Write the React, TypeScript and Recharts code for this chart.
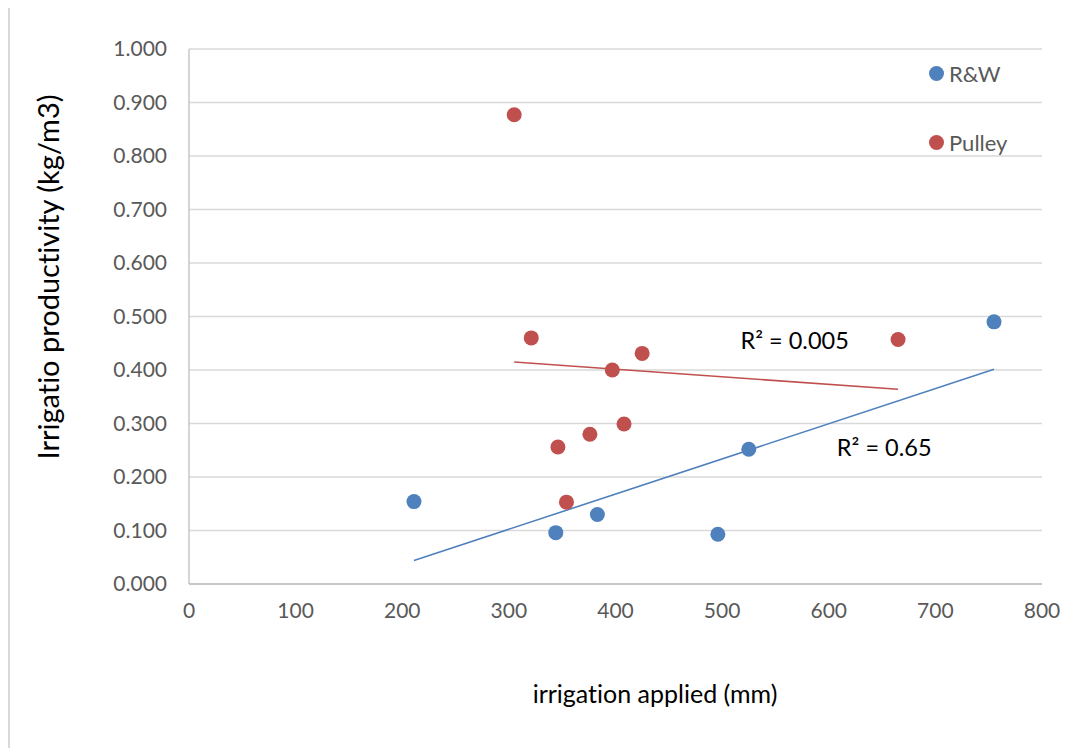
import React from "react";
import {
  ScatterChart,
  Scatter,
  XAxis,
  YAxis,
  CartesianGrid,
  ReferenceLine,
  ReferenceDot,
  Legend,
  Label,
} from "recharts";

// Irrigation applied (mm) and irrigation productivity (kg/m3) per site
const rwIrrigation = [211, 344, 383, 496, 525, 755];
const rwProductivity = [0.154, 0.096, 0.13, 0.093, 0.252, 0.49];

const pulleyIrrigation = [305, 321, 346, 354, 376, 397, 408, 425, 665];
const pulleyProductivity = [0.877, 0.46, 0.256, 0.153, 0.28, 0.4, 0.299, 0.431, 0.457];

const seriesNames = ["R&W", "Pulley"];

const xTicks = [0, 100, 200, 300, 400, 500, 600, 700, 800];
const yTicks = [0, 0.1, 0.2, 0.3, 0.4, 0.5, 0.6, 0.7, 0.8, 0.9, 1.0];

const rwR2Label = "R² = 0.65";
const pulleyR2Label = "R² = 0.005";

const BLUE = "#4F81BD";
const RED = "#C0504D";
const FONT = "Lato, 'Open Sans', sans-serif";
const NO_LIGA: React.CSSProperties = { fontVariantLigatures: "none", fontFeatureSettings: '"liga" 0' };

type Pt = { x: number; y: number };

const toPoints = (xs: number[], ys: number[]): Pt[] => xs.map((x, i) => ({ x, y: ys[i] }));

// Ordinary least-squares trend line spanning the series' x range
function linearTrend(pts: Pt[]): [Pt, Pt] {
  const n = pts.length;
  const mx = pts.reduce((s, p) => s + p.x, 0) / n;
  const my = pts.reduce((s, p) => s + p.y, 0) / n;
  let sxy = 0;
  let sxx = 0;
  pts.forEach((p) => {
    sxy += (p.x - mx) * (p.y - my);
    sxx += (p.x - mx) * (p.x - mx);
  });
  const slope = sxy / sxx;
  const icpt = my - slope * mx;
  const xMin = Math.min(...pts.map((p) => p.x));
  const xMax = Math.max(...pts.map((p) => p.x));
  return [
    { x: xMin, y: icpt + slope * xMin },
    { x: xMax, y: icpt + slope * xMax },
  ];
}

const rwData = toPoints(rwIrrigation, rwProductivity);
const pulleyData = toPoints(pulleyIrrigation, pulleyProductivity);
const rwTrend = linearTrend(rwData);
const pulleyTrend = linearTrend(pulleyData);

const dot = (color: string) => (props: any) =>
  <circle cx={props.cx} cy={props.cy} r={7.5} fill={color} />;

const LegendContent = (props: any) => {
  const items = ([...(props.payload || [])] as any[]).sort(
    (a, b) => seriesNames.indexOf(a.value) - seriesNames.indexOf(b.value)
  );
  return (
    <div style={{ fontFamily: FONT, ...NO_LIGA }}>
      {items.map((p, i) => (
        <div
          key={i}
          style={{
            display: "flex",
            alignItems: "center",
            height: 30,
            marginBottom: i === 0 ? 39 : 0,
          }}
        >
          <svg width={15} height={15} style={{ display: "block" }}>
            <circle cx={7.5} cy={7.5} r={7.5} fill={p.color} />
          </svg>
          <span style={{ marginLeft: 5, fontSize: 22, color: "#595959" }}>{p.value}</span>
        </div>
      ))}
    </div>
  );
};

export default function App() {
  return (
    <div style={{ position: "relative", width: 1083, height: 740 }}>
      <div
        style={{
          position: "absolute",
          left: 0,
          top: -3,
          width: 1083,
          height: 743,
          borderLeft: "2px solid #D9D9D9",
          borderTop: "2px solid #D9D9D9",
          boxSizing: "border-box",
        }}
      />
      <ScatterChart
        width={1083}
        height={740}
        margin={{ top: 41, right: 49, bottom: 134, left: 61 }}
        style={{ fontFamily: FONT, ...NO_LIGA }}
      >
        <CartesianGrid vertical={false} stroke="#D9D9D9" strokeWidth={1.3} />
        <XAxis
          type="number"
          dataKey="x"
          domain={[0, 800]}
          ticks={xTicks}
          allowDataOverflow
          height={30}
          tickLine={false}
          tickSize={6}
          tickMargin={13}
          axisLine={{ stroke: "#BFBFBF", strokeWidth: 1.3 }}
          tick={{ fill: "#595959", fontSize: 21, fontFamily: FONT }}
        >
          <Label
            content={() => (
              <text
                x={647}
                y={685}
                textAnchor="middle"
                dominantBaseline="central"
                fill="#000"
                fontSize={25}
                fontFamily={FONT}
                style={NO_LIGA}
              >
                irrigation applied (mm)
              </text>
            )}
          />
        </XAxis>
        <YAxis
          type="number"
          dataKey="y"
          domain={[0, 1]}
          ticks={yTicks}
          allowDataOverflow
          width={120}
          tickFormatter={(v: number) => v.toFixed(3)}
          tickLine={false}
          tickSize={8}
          tickMargin={14}
          axisLine={{ stroke: "#BFBFBF", strokeWidth: 1.3 }}
          tick={{ fill: "#595959", fontSize: 21, fontFamily: FONT }}
        >
          <Label
            content={() => (
              <text
                x={39}
                y={269}
                transform="rotate(-90 39 269)"
                textAnchor="middle"
                dominantBaseline="central"
                fill="#000"
                fontSize={29}
                fontFamily={FONT}
                style={NO_LIGA}
              >
                Irrigatio productivity (kg/m3)
              </text>
            )}
          />
        </YAxis>
        <Legend
          layout="vertical"
          align="center"
          verticalAlign="middle"
          content={<LegendContent />}
          wrapperStyle={{ position: "absolute", left: 921, top: 50, width: 150, height: 100 }}
        />
        <ReferenceLine
          segment={pulleyTrend}
          stroke={RED}
          strokeWidth={1.6}
          ifOverflow="visible"
        />
        <ReferenceLine
          segment={rwTrend}
          stroke={BLUE}
          strokeWidth={1.6}
          ifOverflow="visible"
        />
        <Scatter
          name={seriesNames[0]}
          data={rwData}
          fill={BLUE}
          shape={dot(BLUE)}
          isAnimationActive={false}
        />
        <Scatter
          name={seriesNames[1]}
          data={pulleyData}
          fill={RED}
          shape={dot(RED)}
          isAnimationActive={false}
        />
        <ReferenceDot
          x={568}
          y={0.454}
          r={1}
          fill="none"
          stroke="none"
          label={{ value: pulleyR2Label, position: "center", fill: "#000", fontSize: 23.5, fontFamily: FONT }}
        />
        <ReferenceDot
          x={652}
          y={0.254}
          r={1}
          fill="none"
          stroke="none"
          label={{ value: rwR2Label, position: "center", fill: "#000", fontSize: 23.5, fontFamily: FONT }}
        />
      </ScatterChart>
    </div>
  );
}
